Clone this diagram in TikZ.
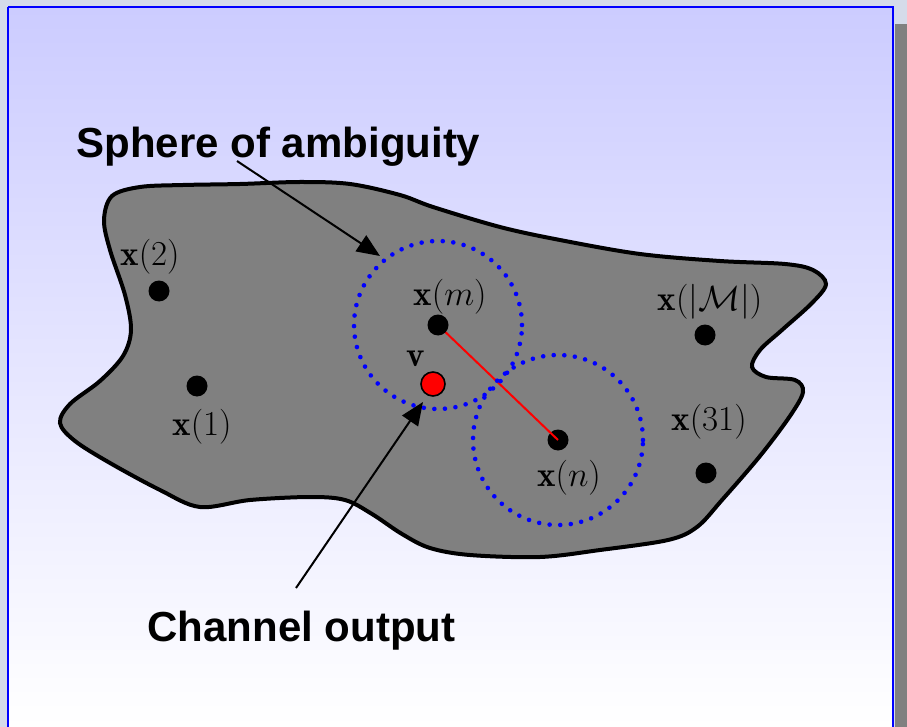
\RequirePackage{fix-cm}
\documentclass[tikz,border=0pt]{standalone}
\usepackage{fontspec}
\newfontfamily\labfont{Liberation Sans}
\usetikzlibrary{arrows.meta}
\definecolor{outerbg}{RGB}{213,219,234}
\definecolor{topviolet}{RGB}{204,204,255}
\definecolor{blobgray}{RGB}{128,128,128}
\definecolor{shadowgray}{RGB}{128,128,128}
\begin{document}
\begin{tikzpicture}[x=1pt,y=-1pt,
  dotnode/.style={circle,fill=black,inner sep=0pt,minimum size=21pt},
  vnode/.style={circle,fill=red,draw=black,line width=1.6pt,inner sep=0pt,minimum size=24pt},
  mlabel/.style={font=\fontsize{35}{42}\selectfont,inner sep=0pt},
  biglabel/.style={font=\labfont\bfseries\fontsize{42}{50}\selectfont,inner sep=0pt},
  arrowline/.style={line width=2pt,-{Triangle[length=23pt,width=19pt]}},
  spherestyle/.style={blue,line width=4.6pt,line cap=round,dash pattern=on 0pt off 10.6pt},
  blobstyle/.style={fill=blobgray,draw=black,line width=4pt},
]
\useasboundingbox (0,0) rectangle (907,727);
% outer background and shadow
\fill[outerbg] (0,0) rectangle (907,727);
\fill[shadowgray] (895,24) rectangle (907,727);
% frame with gradient
\shade[top color=topviolet,bottom color=white] (8,7) rectangle (893,727);
\draw[blue,line width=2.6pt] (8,7) -- (893,7) -- (893,727);
\draw[blue,line width=2.6pt] (8,7) -- (8,727);
% blob
\path[blobstyle] plot[smooth cycle,tension=0.55] coordinates {
 (112,196) (140,187) (183,185) (240,184) (300,182) (350,184) (400,195)
 (433,207) (500,227) (560,240) (640,254) (720,261) (785,264) (813,270)
 (826,284) (812,303) (782,330) (760,350) (752,367) (766,377) (795,380)
 (803,392) (790,416) (760,456) (722,500) (697,527) (668,540) (600,550)
 (540,557) (470,555) (430,548) (402,534) (372,514) (345,500) (310,497)
 (250,500) (200,507) (160,490) (110,463) (75,441) (60,423) (70,404)
 (100,381) (123,356) (131,330) (125,295) (110,250) (104,220)};
% points
\coordinate (cm) at (438,325);
\node[dotnode] (xn) at (558,440) {};
\draw[red,line width=2pt] (cm) -- (xn.center);
\node[dotnode] (xm) at (cm) {};
\node[dotnode] (x2) at (159,291) {};
\node[dotnode] (x1) at (197,386) {};
\node[dotnode] (xM) at (705,335) {};
\node[dotnode] (x31) at (706,473) {};
\node[vnode] (v) at (433,384) {};
% spheres of ambiguity
\draw[spherestyle] (xm.center) circle (84pt);
\draw[spherestyle] (xn.center) circle (85pt);
% labels
\node[mlabel] (lx2) at (150,257) {$\mathbf{x}(2)$};
\node[mlabel] (lx1) at (202,427) {$\mathbf{x}(1)$};
\node[mlabel] (lxm) at (450,297) {$\mathbf{x}(m)$};
\node[mlabel] (lv) at (416,359) {$\mathbf{v}$};
\node[mlabel] (lxn) at (569,478) {$\mathbf{x}(n)$};
\node[mlabel] (lxM) at (710,302) {$\mathbf{x}(|\mathcal{M}|)$};
\node[mlabel] (lx31) at (709,422) {$\mathbf{x}(31)$};
\node[biglabel,anchor=base] (sph) at (278.5,158) {Sphere of ambiguity};
\node[biglabel,anchor=base] (chan) at (301.5,641) {Channel output};
% arrows
\coordinate (sphstart) at (237,161);
\coordinate (sphtip) at (380,256);
\coordinate (chanstart) at (296,588);
\coordinate (chantip) at (423,402);
\draw[arrowline] (sphstart) -- (sphtip);
\draw[arrowline] (chanstart) -- (chantip);
\end{tikzpicture}
\end{document}
